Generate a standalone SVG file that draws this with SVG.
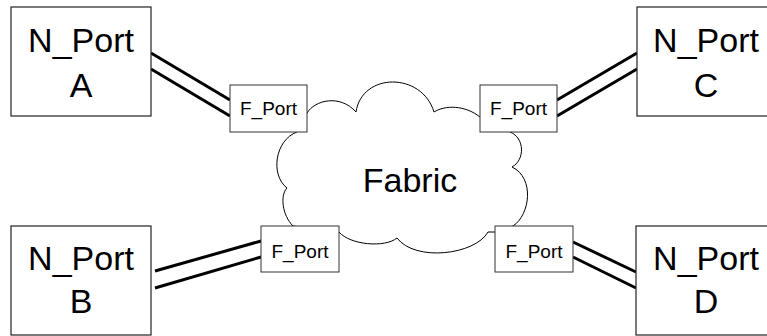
<svg xmlns="http://www.w3.org/2000/svg" width="767" height="336" viewBox="0 0 767 336">
<style>
.n{fill:#fff;stroke:#222;stroke-width:1.2}
.f{fill:#fff;stroke:#333;stroke-width:1}
.big{font-family:"Liberation Sans",Arial,sans-serif;font-size:34px;fill:#000;text-anchor:middle}
.sm{font-family:"Liberation Sans",Arial,sans-serif;font-size:19px;fill:#000;text-anchor:middle}
.link{stroke:#000;stroke-width:3;fill:none}
.cloud{fill:#fff;stroke:#000;stroke-width:1}
</style>
<rect width="767" height="336" fill="#fff"/>
<g id="fabric">
<path class="cloud" d="M307,113 C315,100 340,94 356,112 C362,72 422,72 434,112 C445,105 465,105 480,117 L510,125 L510,132 C525,138 525,160 512,167 C535,178 530,215 513,226 L495,232 L488,232 C475,255 415,262 397,238 C385,248 350,245 339,232 L293,226 C282,215 280,195 287,188 C270,175 275,140 297,132 Z"/>
<text class="big" x="410" y="192">Fabric</text>
</g>
<g id="connectors">
<line class="link" x1="151" y1="53" x2="230" y2="100"/>
<line class="link" x1="151" y1="69" x2="230" y2="116"/>
<line class="link" x1="557" y1="100" x2="637" y2="53"/>
<line class="link" x1="557" y1="116" x2="637" y2="69"/>
<line class="link" x1="155" y1="271" x2="261" y2="241"/>
<line class="link" x1="155" y1="288" x2="261" y2="257"/>
<line class="link" x1="573" y1="242" x2="636" y2="272"/>
<line class="link" x1="573" y1="257" x2="636" y2="288"/>
</g>
<g id="nportA">
<rect class="n" x="11" y="7" width="140" height="109"/>
<text class="big" x="81" y="52">N_Port</text>
<text class="big" x="81" y="97">A</text>
</g>
<g id="nportC">
<rect class="n" x="637" y="7" width="140" height="109"/>
<text class="big" x="706" y="52">N_Port</text>
<text class="big" x="706" y="97">C</text>
</g>
<g id="nportB">
<rect class="n" x="11" y="226" width="140" height="109"/>
<text class="big" x="81" y="270">N_Port</text>
<text class="big" x="81" y="313">B</text>
</g>
<g id="nportD">
<rect class="n" x="636" y="226" width="140" height="109"/>
<text class="big" x="706" y="270">N_Port</text>
<text class="big" x="706" y="313">D</text>
</g>
<g id="fportA">
<rect class="f" x="230" y="85" width="77" height="47"/>
<text class="sm" x="268.5" y="115">F_Port</text>
</g>
<g id="fportC">
<rect class="f" x="480" y="85" width="77" height="47"/>
<text class="sm" x="518.5" y="115">F_Port</text>
</g>
<g id="fportB">
<rect class="f" x="261" y="226" width="78" height="46"/>
<text class="sm" x="300" y="258">F_Port</text>
</g>
<g id="fportD">
<rect class="f" x="495" y="226" width="78" height="46"/>
<text class="sm" x="534" y="258">F_Port</text>
</g>
</svg>
